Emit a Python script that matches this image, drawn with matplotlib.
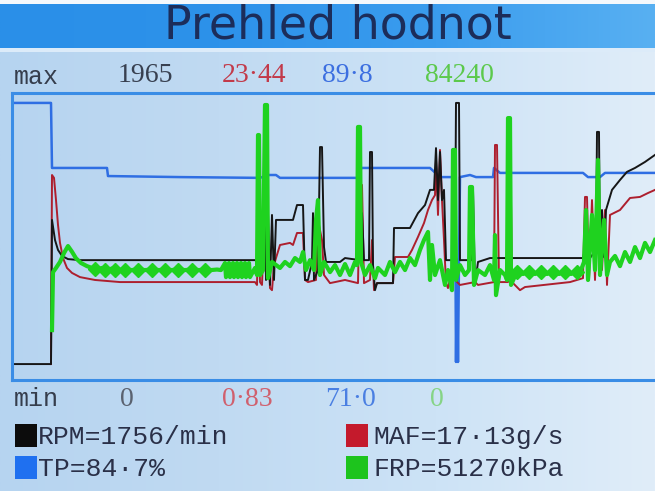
import numpy as np
import matplotlib
matplotlib.use("Agg")
import matplotlib.pyplot as plt
from matplotlib.patches import Rectangle
from matplotlib.colors import LinearSegmentedColormap

# ---------------- data (normalised 0..100 of each channel's min..max) ----------------
title = "Prehled hodnot"
channels = ["RPM", "MAF", "TP", "FRP"]
max_labels = ["1965", "23·44", "89·8", "84240"]
min_labels = ["0", "0·83", "71·0", "0"]
legend_labels = ["RPM=1756/min", "MAF=17·13g/s", "TP=84·7%", "FRP=51270kPa"]

tp_t = [0, 18, 18.5, 46, 46.5, 82.5, 122.5, 126.5, 130.5, 132.5, 172.5, 173, 207.5, 212.5,
        220, 220.5, 221, 221.5, 222, 222.5, 227.5, 230.5, 239, 239.5, 242.5, 284, 286.5,
        292.5, 295, 320]
tp_v = [100, 100, 75.1, 75.1, 72.0, 71.6, 71.3, 72.4, 72.4, 71.3, 71.3, 75.1, 75.1, 71.6,
        71.6, 0.8, 40.0, 0.8, 40.0, 71.6, 72.4, 71.6, 71.6, 75.1, 73.2, 73.2, 71.6,
        71.6, 73.2, 73.2]

rpm_t = [0, 18, 18.5, 20, 21.5, 23.5, 26.5, 32.5, 120, 121.5, 123.5, 125, 125.5, 126.5, 127.5,
         128.5, 129.5, 130.5, 139, 141, 144, 145, 146.5, 148.5, 149, 149.5, 151.5, 152.5, 153.5,
         154.5, 155.5, 162.5, 165, 172.5, 173.5, 174.5, 177, 177.5, 178.5, 179, 180, 181, 189,
         189.5, 197.5, 201.5, 205, 207.5, 209.5, 210.5, 211.5, 212.5, 213.5, 214.5, 215.5, 220,
         220.5, 222, 222.5, 228.5, 229, 230, 231.5, 237.5, 284, 285.5, 287.5, 290.5, 291, 292,
         292.5, 293.5, 294.5, 295.5, 298.5, 302.5, 306, 310, 315, 320]
rpm_v = [0, 0, 55.2, 47.5, 43.7, 41.4, 40.2, 39.8, 39.8, 39.1, 41.8, 57.8, 32.2, 57.8, 30.3,
         57.1, 32.2, 55.2, 55.2, 60.9, 60.9, 32.2, 32.2, 39.1, 57.8, 32.2, 36.0, 83.1, 83.1,
         44.8, 39.1, 39.1, 40.6, 39.8, 57.8, 39.8, 39.8, 81.2, 81.2, 37.9, 28.3, 31.0, 31.0,
         52.1, 52.1, 57.8, 60.9, 66.7, 66.7, 82.7, 62.8, 81.2, 62.8, 66.7, 39.8, 39.8,
         100, 100, 39.8, 39.8, 66.7, 30.3, 39.1, 40.6, 40.6, 45.6, 40.6, 43.7, 88.9, 88.9,
         41.0, 59.0, 41.0, 59.0, 66.7, 70.5, 73.6, 75.1, 77.4, 80.1]

maf_t = [18, 18.5, 19.5, 20.5, 21.5, 22.5, 24, 26, 28.5, 32.5, 40, 52.5, 120, 121, 121.5,
         122, 122.5, 123.5, 124.5, 125.5, 126.5, 127.5, 128.5, 129.5, 130.5, 132.5, 137.5, 139,
         141, 144, 145, 146.5, 150.5, 151.5, 152.5, 153.5, 154.5, 157.5, 165, 171.5, 172.5,
         173.5, 174.5, 177.5, 178.5, 179.5, 181, 189, 190, 196.5, 198.5, 201.5, 204.5, 206.5,
         208.5, 210, 210.5, 211.5, 212.5, 213.5, 214.5, 215.5, 216.5, 218.5, 220, 222.5, 230,
         231.5, 239.5, 240, 241, 242, 246.5, 247, 248, 248.5, 252.5, 255, 277.5, 284, 285, 286,
         287, 288.5, 290, 291.5, 293.5, 295, 296, 297.5, 302.5, 307.5, 312.5, 316.5, 320]
maf_v = [0, 72.4, 71.3, 62.8, 53.3, 46.4, 40.6, 36.8, 34.9, 33.3, 32.2, 31.4, 31.4, 30.3,
         47.5, 47.5, 31.4, 30.3, 51.3, 34.1, 47.5, 29.1, 28.3, 37.9, 40.6, 45.6, 46.4, 45.6,
         50.2, 50.2, 32.2, 31.4, 32.2, 55.2, 51.3, 47.5, 34.1, 31.0, 32.2, 31.0, 68.6,
         68.6, 31.0, 32.2, 47.5, 28.3, 31.0, 31.0, 41.0, 41.0, 43.7, 48.7, 54.0, 59.0,
         62.8, 64.7, 78.2, 57.1, 82.0, 62.8, 47.5, 31.0, 29.1, 36.0, 32.2, 30.3, 31.4,
         30.3, 31.4, 83.9, 83.9, 31.4, 31.4, 73.2, 62.8, 31.4, 28.3, 29.5, 31.4, 32.9, 64.0, 64.0,
         32.2, 62.8, 32.2, 62.8, 36.0, 59.0, 30.3, 57.1, 59.0, 63.6, 64.0, 65.5, 66.7]

frp_t = ([18.5, 19, 20.5, 22.5, 24.5, 26.5, 28.5, 30.5, 33, 36]
         + [38.5, 41, 43.5, 46, 48.5, 51, 55, 58, 61.5, 65, 68.5, 72, 75, 78, 81.5, 85, 88.5,
            92, 95, 98, 101, 103, 105, 105.5, 107, 107.5, 109, 109.5, 111, 111.5, 113, 113.5,
            115, 115.5, 117, 117.5]
         + [120, 121, 121.5, 122, 122.5, 124, 125, 126, 126.5, 128.5, 132.5, 135, 137.5, 140,
            142.5, 144, 145.5, 147.5, 149.5, 150.5, 151.5, 152.5, 154.5, 157.5, 160, 162.5,
            165, 167.5, 170, 171, 171.5, 172.5, 173, 175, 177.5, 180, 181.5, 185, 187.5, 190,
            192.5, 195, 197.5, 200, 202.5, 204.5, 206.5, 207.5, 208.5, 210, 212.5, 215, 216.5,
            218.5, 219, 220, 220.5, 222.5, 225, 227, 227.5, 228.5, 229.5, 231.5, 235, 237.5,
            239.5, 240, 240.5, 242.5, 245, 246, 246.5, 247.5, 248]
         + [251, 254, 257, 260, 263, 266, 269, 272, 275, 278, 281, 283]
         + [284.5, 285.5, 286.5, 288.5, 290, 291.5, 292.5, 294.5, 296, 297.5, 300, 302.5, 305,
            307.5, 310, 312.5, 315, 317.5, 320])
frp_v = ([13.0, 35.2, 36.8, 39.1, 42.5, 45.2, 43.0, 40.5, 38.7, 37.5]
         + [36.8, 36.2, 36.8, 36.0, 36.6, 36.0, 36.2, 36.0, 36.2, 36.0, 36.2, 36.0, 36.2, 36.0,
            36.2, 36.0, 36.2, 36.0, 36.2, 36.0, 36.2, 36.0, 38.7, 33.3, 38.7, 33.3, 38.7, 33.3,
            38.7, 33.3, 38.7, 33.3, 38.7, 33.3, 38.7, 33.3]
         + [36.8, 34.1, 87.7, 87.7, 34.1, 36.0, 99.2, 99.2, 32.9, 39.1, 36.8, 39.1, 37.5, 40.6,
            39.1, 42.9, 36.0, 39.8, 36.0, 55.2, 62.8, 34.1, 39.1, 35.2, 37.9, 34.1, 38.3, 34.1,
            39.1, 37.9, 90.8, 90.8, 39.1, 34.1, 37.9, 32.9, 36.8, 34.1, 39.1, 35.2, 39.1, 36.0,
            40.6, 37.9, 43.7, 47.5, 50.6, 32.2, 45.6, 34.1, 39.8, 30.3, 36.0, 28.3, 82.0, 82.0,
            32.2, 37.9, 34.1, 36.0, 67.8, 67.8, 30.3, 36.0, 34.1, 37.9, 32.2, 49.4, 26.4, 36.0,
            34.1, 32.2, 94.2, 94.2, 30.3]
         + [35.5, 34.5, 35.5, 34.5, 35.5, 34.5, 35.5, 34.5, 35.5, 34.5, 35.5, 36.0]
         + [39.1, 59.0, 32.2, 57.1, 36.0, 78.2, 34.1, 55.2, 34.1, 39.1, 41.4, 37.5, 42.9, 39.1,
            44.8, 40.6, 46.4, 42.9, 47.5])

# bead-like FRP samples on the idle band
bead_t = [40, 45, 50, 55, 61.5, 68.5, 75, 81.5, 88.5, 95, 251, 257, 263, 269, 275, 281]
bead_v = [36.4, 36.2, 36.2, 36.0, 36.0, 36.0, 36.0, 36.0, 36.0, 36.0, 35.2, 35.2, 35.2,
          35.2, 35.2, 35.2]

# ---------------- styling ----------------
W, H = 655, 491
C_BLACK, C_RED, C_BLUE, C_GREEN = "#161616", "#ad1f2e", "#2f6ee3", "#1fd21f"
SQ = {"RPM": "#0c0c0c", "MAF": "#c41a2c", "TP": "#1f70f0", "FRP": "#1dc41d"}

fig = plt.figure(figsize=(W / 100, H / 100), dpi=100)


def fx(px):
    return px / W


def fy(py):
    return 1 - py / H


# background
bg = fig.add_axes([0, 0, 1, 1], zorder=-5)
bg.set_axis_off()
grad = np.linspace(0, 1, 256).reshape(1, -1)
bg_cmap = LinearSegmentedColormap.from_list("bg", ["#b6d4f0", "#c0daf2", "#cde3f6", "#e0edf9"])
bg.imshow(grad, aspect="auto", cmap=bg_cmap, extent=[0, 1, 0, 1])
title_cmap = LinearSegmentedColormap.from_list("tb", ["#2a8fe8", "#2d92ea", "#3a9cee", "#58b0f2"])
bg.imshow(grad, aspect="auto", cmap=title_cmap, extent=[0, 1, fy(48), fy(4)])
bg.add_patch(Rectangle((0, fy(4)), 1, 4 / H, color="#f4f8fc", lw=0))
bg.add_patch(Rectangle((0, fy(52)), 1, 4 / H, color="#dcebf9", lw=0))
bg.set_xlim(0, 1)
bg.set_ylim(0, 1)

# title
fig.text(fx(338), fy(26), title, ha="center", va="center", fontsize=33,
         family="DejaVu Sans", color="#1c2d5a")

# plot area
ax = fig.add_axes([fx(12), fy(380), fx(660) - fx(12), fy(93) - fy(380)])
ax.set_facecolor("none")
ax.set_xlim(-1.5, 322.5)
ax.set_ylim(-6.1, 103.8)
ax.set_xticks([])
ax.set_yticks([])
for s in ax.spines.values():
    s.set_color("#3a8de6")
    s.set_linewidth(2.2)

ax.plot(tp_t, tp_v, color=C_BLUE, lw=1.8, zorder=2)
ax.plot(maf_t, maf_v, color=C_RED, lw=1.4, zorder=3)
ax.plot(rpm_t, rpm_v, color=C_BLACK, lw=1.4, zorder=4)
ax.plot(frp_t, frp_v, color=C_GREEN, lw=3.0, zorder=5, solid_joinstyle="round")
ax.plot(bead_t, bead_v, ls="none", marker="D", ms=7, color=C_GREEN, mec=C_GREEN, zorder=5)

# max / min rows
label_font = "Liberation Mono"
num_font = "Liberation Serif"
max_cols = ["#384050", "#c23a4a", "#3c6fe0", "#5cc94c"]
min_cols = ["#5a6270", "#d0606e", "#4a7fe2", "#86d486"]
num_x = [118, 222, 322, 425]
min_x = [120, 222, 325, 430]
fig.text(fx(14), fy(77), "max", ha="left", va="center", fontsize=18, family=label_font,
         color="#353d4c")
fig.text(fx(14), fy(399), "min", ha="left", va="center", fontsize=18, family=label_font,
         color="#353d4c")
for lab, x, c in zip(max_labels, num_x, max_cols):
    fig.text(fx(x), fy(76), lab, ha="left", va="center", fontsize=20, family=num_font, color=c)
for lab, x, c in zip(min_labels, min_x, min_cols):
    fig.text(fx(x), fy(399), lab, ha="left", va="center", fontsize=20, family=num_font, color=c)

# legend boxes
leg_pos = {"RPM": (15, 424, 38, 437), "MAF": (346, 424, 373, 437),
           "TP": (15, 456, 38, 469), "FRP": (346, 456, 373, 469)}
for ch, lab in zip(channels, legend_labels):
    sx, sy, tx, ty = leg_pos[ch]
    fig.patches.append(Rectangle((fx(sx), fy(sy + 23)), 22 / W, 23 / H,
                                 transform=fig.transFigure, color=SQ[ch], lw=0))
    fig.text(fx(tx), fy(ty), lab, ha="left", va="center", fontsize=19, family=label_font,
             color="#2a3048")

fig.savefig("out.png", dpi=100)
